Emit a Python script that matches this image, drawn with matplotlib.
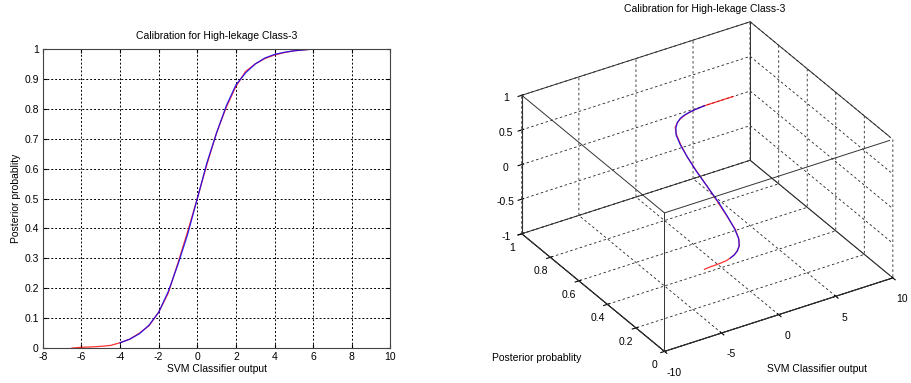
import numpy as np
import matplotlib.pyplot as plt

plt.rcParams['font.family'] = ['Liberation Sans', 'DejaVu Sans']
plt.rcParams['axes.unicode_minus'] = False

# measured calibration points (red) and fitted sigmoid (blue)
svm_out = [-6.5, -6.0, -5.5, -5.0, -4.5, -4.0, -3.5, -3.0, -2.5, -2.0, -1.5, -1.0,
           -0.5, 0.0, 0.5, 1.0, 1.5, 2.0, 2.5, 3.0, 3.5, 4.0, 4.5, 5.0, 5.5, 6.0,
           7.0, 8.0, 8.5]
post_meas = [0.0, 0.003, 0.004, 0.006, 0.009, 0.018, 0.03, 0.05, 0.075, 0.12, 0.185,
             0.285, 0.39, 0.5, 0.615, 0.72, 0.805, 0.875, 0.925, 0.95, 0.968, 0.98,
             0.988, 0.994, 0.997, 1.0, 1.0, 1.0, 1.0]

fit_x = [-4.0, -3.5, -3.0, -2.5, -2.0, -1.5, -1.0, -0.5, 0.0, 0.5, 1.0, 1.5, 2.0,
         2.5, 3.0, 3.5, 4.0, 4.5, 5.0, 5.5, 6.0]
fit_y = [0.018, 0.03, 0.048, 0.077, 0.12, 0.19, 0.28, 0.38, 0.5, 0.62, 0.72, 0.81,
         0.88, 0.92, 0.95, 0.97, 0.982, 0.989, 0.994, 0.997, 1.0]

title = 'Calibration for High-lekage Class-3'
fs = 7.5

fig = plt.figure(figsize=(9.12, 3.83), dpi=100)

# ---- left 2D plot ----
ax = fig.add_axes([0.047, 0.091, 0.381, 0.781])
ax.plot(svm_out, post_meas, color='red', lw=0.9, alpha=0.8)
ax.plot(fit_x, fit_y, color='blue', lw=0.9, alpha=0.8)
ax.set_xlim(-8, 10)
ax.set_ylim(0, 1)
ax.set_xticks(np.arange(-8, 11, 2))
ax.set_yticks(np.arange(0, 1.01, 0.1))
ax.set_yticklabels(['0', '0.1', '0.2', '0.3', '0.4', '0.5', '0.6', '0.7', '0.8', '0.9', '1'])
ax.grid(True, color='black', linestyle=(0, (2, 2)), linewidth=0.7)
ax.tick_params(direction='in', labelsize=fs, length=3, top=True, right=True)
ax.tick_params(axis='x', pad=3)
ax.tick_params(axis='y', pad=3)
for s in ax.spines.values():
    s.set_linewidth(0.8)
    s.set_color('#444444')
ax.set_xlabel('SVM Classifier output', fontsize=fs, labelpad=1)
ax.set_ylabel('Posterior probablity', fontsize=fs, labelpad=2)
ax.set_title(title, fontsize=fs, pad=7)

# ---- right 3D plot ----
ax3 = fig.add_axes([0.54, 0.0096, 0.46, 0.98], projection='3d', proj_type='ortho')
ax3.view_init(elev=31, azim=-122)
ax3.set_box_aspect((1.0, 1.0, 0.6), zoom=1.07)
z0 = np.zeros(len(svm_out))
ax3.plot(svm_out, post_meas, z0, color='red', lw=0.9, alpha=0.8)
ax3.plot(fit_x, fit_y, np.zeros(len(fit_x)), color='blue', lw=0.9, alpha=0.8)
ax3.set_xlim(-10, 10)
ax3.set_ylim(0, 1)
ax3.set_zlim(-1, 1)
ax3.set_xticks([-10, -5, 0, 5, 10])
ax3.set_yticks([0, 0.2, 0.4, 0.6, 0.8, 1])
ax3.set_yticklabels(['0', '0.2', '0.4', '0.6', '0.8', '1'])
ax3.set_zticks([-1, -0.5, 0, 0.5, 1])
ax3.set_zticklabels(['-1', '-0.5', '0', '0.5', '1'])
for a in (ax3.xaxis, ax3.yaxis, ax3.zaxis):
    a.set_pane_color((1, 1, 1, 0))
    a._axinfo['grid'].update({'color': '#222222', 'linestyle': (0, (3, 3)), 'linewidth': 0.6})
    a._axinfo['axisline']['color'] = 'black'
    a.line.set_linewidth(0.8)
ax3.tick_params(labelsize=fs)
ax3.tick_params(axis='x', pad=1)
ax3.tick_params(axis='y', pad=-2)
ax3.tick_params(axis='z', pad=-2)

# box edges
xl, yl, zl = (-10, 10), (0, 1), (-1, 1)
for yy in yl:
    for zz in zl:
        ax3.plot(xl, [yy, yy], [zz, zz], color='#333333', lw=0.7)
for xx in xl:
    for zz in zl:
        ax3.plot([xx, xx], yl, [zz, zz], color='#333333', lw=0.7)
for xx in xl:
    for yy in yl:
        ax3.plot([xx, xx], [yy, yy], zl, color='#333333', lw=0.7)

# horizontal labels as in the original figure
fig.text(0.773, 0.99, title, fontsize=fs, ha='center', va='top')
fig.text(0.589, 0.065, 'Posterior probablity', fontsize=fs, ha='center', va='center')
fig.text(0.896, 0.036, 'SVM Classifier output', fontsize=fs, ha='center', va='center')

fig.savefig('out.png', dpi=100)
